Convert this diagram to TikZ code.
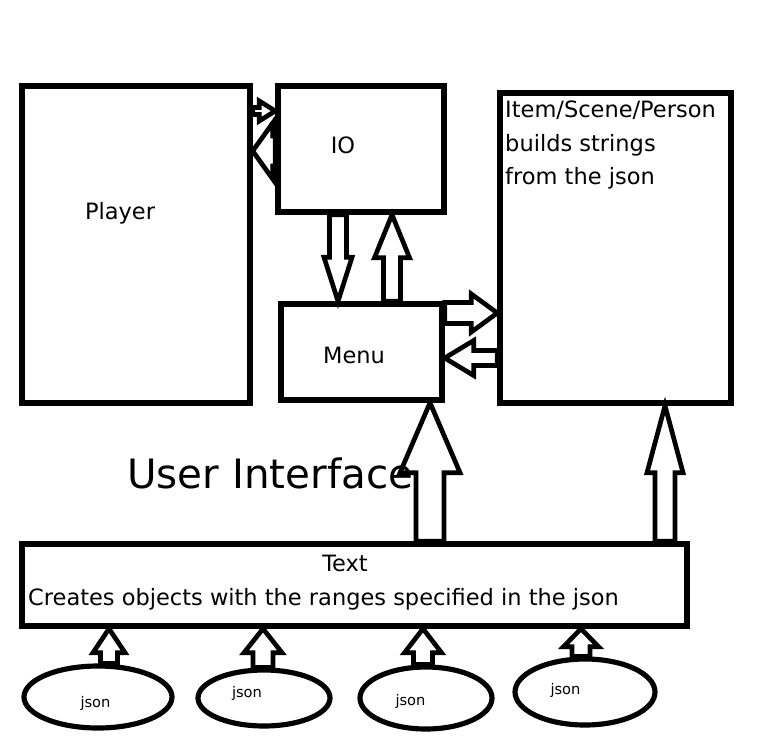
\documentclass[tikz,border=0pt]{standalone}
\usepackage{fontspec}
\setmainfont{DejaVu Sans}
\usetikzlibrary{calc}
\usetikzlibrary{shapes.geometric}

% one pixel of the sketch
\newcommand\px{0.03cm}
% hollow block arrow: tail, tip, shaft half width, head half width, head length (in px)
\newcommand\hollowarrow[5]{%
  \draw[blockarrow] let \p1=(#1), \p2=(#2),
    \n1={atan2(\y2-\y1,\x2-\x1)}, \n2={veclen(\x2-\x1,\y2-\y1)},
    \n3={#3*\px}, \n4={#4*\px}, \n5={\n2-#5*\px} in
    [shift={(\p1)},rotate=\n1]
    (0pt,-\n3) -- (\n5,-\n3) -- (\n5,-\n4) -- (\n2,0pt) -- (\n5,\n4) -- (\n5,\n3) -- (0pt,\n3) -- cycle;}

\begin{document}
\begin{tikzpicture}[x=\px,y=-\px,
  box/.style={draw,line width=4.6pt,inner sep=0pt},
  blob/.style={draw,ellipse,line width=4.4pt,inner sep=0pt},
  blockarrow/.style={line width=4pt,line join=miter},
  lbl/.style={inner sep=0pt,font=\fontsize{19.2}{28.6}\selectfont},
  small/.style={inner sep=0pt,font=\fontsize{12.5}{14}\selectfont}]
\useasboundingbox (0,0) rectangle (769,753);

% boxes
\node[box,minimum width=228*\px,minimum height=317*\px] (player) at (136,244.5) {};
\node[box,minimum width=166*\px,minimum height=126*\px] (io) at (361,149) {};
\node[box,minimum width=161*\px,minimum height=96*\px] (menu) at (361.5,352) {};
\node[box,minimum width=231*\px,minimum height=310*\px] (item) at (615.5,248) {};
\node[box,minimum width=665*\px,minimum height=82*\px] (textbox) at (354.5,585) {};

% json files
\node[blob,minimum width=148*\px,minimum height=62*\px] (json1) at (98,697) {};
\node[blob,minimum width=132*\px,minimum height=56*\px] (json2) at (264,698) {};
\node[blob,minimum width=132*\px,minimum height=62*\px] (json3) at (426,698) {};
\node[blob,minimum width=140*\px,minimum height=66*\px] (json4) at (585,692) {};

% texts
\node[lbl,anchor=base] (playertxt) at (120,219) {Player};
\node[lbl,anchor=base] (iotxt) at (343,153) {IO};
\node[lbl,anchor=base] (menutxt) at (354,363) {Menu};
\node[lbl,anchor=north west,align=left] (itemtxt) at (505,101)
  {Item/Scene/Person\\builds strings\\from the json};
\node[lbl,anchor=base] (texttitle) at (345,571) {Text};
\node[lbl,anchor=base west] (textdesc) at (28,605)
  {Creates objects with the ranges specified in the json};
\node[inner sep=0pt,anchor=base west,font=\fontsize{34.5}{40}\selectfont] (uilabel) at (127,488)
  {User Interface};
\node[small,anchor=base] (jsontxt1) at (95.5,707) {json};
\node[small,anchor=base] (jsontxt2) at (247,697) {json};
\node[small,anchor=base] (jsontxt3) at (410.5,705) {json};
\node[small,anchor=base] (jsontxt4) at (565.5,694) {json};

% arrows between the boxes
\hollowarrow{player.east |- 0,111}{io.west |- 0,111}{3.5}{10}{16}
\hollowarrow{io.west |- 0,151}{player.east |- 0,151}{15}{28}{20}
\hollowarrow{io.south -| 338,0}{menu.north -| 338,0}{8.5}{14}{44}
\hollowarrow{menu.north -| 392,0}{io.south -| 392,0}{8.5}{17.5}{43}
\hollowarrow{menu.east |- 0,313}{item.west |- 0,313}{10.5}{19}{26}
\hollowarrow{item.west |- 0,358}{menu.east |- 0,358}{7.5}{17.5}{29}
\hollowarrow{textbox.north -| 430,0}{menu.south -| 430,0}{14}{30}{70}
\hollowarrow{textbox.north -| 665,0}{item.south -| 665,0}{10}{18}{67}

% json into text
\hollowarrow{json1.north -| 109,0}{textbox.south -| 109,0}{8.5}{16}{24}
\hollowarrow{json2.north -| 263,0}{textbox.south -| 263,0}{10}{19}{24}
\hollowarrow{json3.north -| 423,0}{textbox.south -| 423,0}{9.5}{18.5}{24}
\hollowarrow{json4.north -| 581,0}{textbox.south -| 581,0}{9}{17.5}{18}

\end{tikzpicture}
\end{document}
